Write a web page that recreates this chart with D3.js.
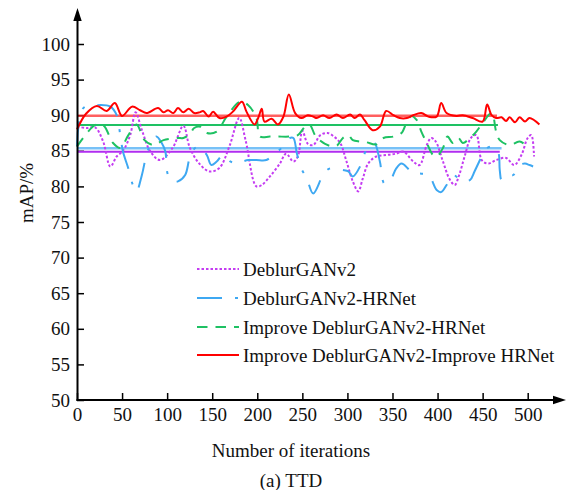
<!DOCTYPE html>
<html><head><meta charset="utf-8">
<script src="https://cdn.jsdelivr.net/npm/d3@7"></script>
<style>body{margin:0;background:#fff}</style>
</head><body>
<svg id="c" width="568" height="490"></svg>
<script>
const xTicks=[0,50,100,150,200,250,300,350,400,450,500];
const yTicks=[50,55,60,65,70,75,80,85,90,95,100];
const seriesNames=["DeblurGANv2","DeblurGANv2-HRNet","Improve DeblurGANv2-HRNet","Improve DeblurGANv2-Improve HRNet"];

const magIter=[0,11,20,29,37,44,51,59,65,72,81,92,106,118,125,135,147,158,169,180,187,199,205,214,225,232,240,245,250,256,262,270,278,285,292,299,306,312,317,323,332,343,354,362,373,380,388,393,398,406,413,419,424,430,437,443,449,456,465,476,485,493,500,504,507];
const magVal=[88.4,88.2,88.3,86.3,82.8,84.2,85.0,87.2,90.4,87.9,85.0,83.7,85.4,88.5,85.5,83.3,82.1,82.6,85.6,89.6,86.5,80.0,80.2,81.4,83.2,84.6,83.5,84.2,87.8,86.0,85.8,87.2,87.5,87.0,86.1,83.5,80.7,79.3,81.1,83.2,84.2,84.4,84.6,84.9,83.5,83.0,85.8,86.8,86.3,83.5,81.1,80.2,81.6,84.2,86.8,87.2,83.7,83.2,83.7,84.0,83.0,84.4,86.8,87.2,84.2];

const blueIter=[0,7,22,37,44,48,51,57,62,66,72,77,83,88,94,98,101,107,112,120,125,131,136,144,149,155,162,170,177,184,190,199,210,219,227,236,240,244,249,255,262,273,280,295,301,306,314,319,325,330,336,341,347,354,360,369,375,380,390,399,404,410,417,428,436,441,447,452,460,467,469,471,476,484,491,497,502,506];
const blueVal=[85.6,91.0,91.4,91.2,90.0,87.2,84.9,82.5,80.2,79.3,81.6,84.4,86.3,87.0,86.1,84.9,81.6,80.7,80.7,81.6,84.0,85.4,85.6,84.4,83.0,83.5,84.4,83.5,83.2,83.5,83.7,83.7,83.7,84.6,85.4,86.8,86.8,84.6,82.5,81.1,79.0,81.6,82.5,82.3,82.1,81.4,82.8,84.6,85.8,86.1,83.5,80.4,80.7,82.5,83.2,82.3,81.8,81.8,81.6,79.5,79.2,80.2,81.6,80.7,80.9,82.1,83.7,85.1,85.6,84.9,82.3,80.9,81.4,81.6,83.0,83.2,83.0,82.8];

const greenIter=[0,20,29,40,48,57,66,75,85,96,111,118,125,130,136,144,155,166,181,190,199,203,214,223,236,245,253,258,264,269,280,288,295,301,306,314,321,332,340,351,360,366,371,377,382,388,395,399,406,411,417,423,428,436,443,450,460,465,469,480,491,502];
const greenVal=[85.6,88.6,88.6,86.1,85.4,87.2,88.7,86.5,85.8,86.5,86.8,86.8,87.3,88.2,88.4,87.5,87.7,89.8,91.9,91.4,89.6,87.0,87.0,87.0,87.0,87.2,88.4,88.7,87.2,86.5,85.7,85.7,86.8,87.2,86.5,86.3,86.2,85.9,86.8,87.0,87.5,89.1,89.9,89.3,87.7,86.1,84.4,84.2,85.4,87.0,86.1,86.8,86.1,86.8,87.7,88.9,90.3,87.7,86.5,85.8,86.3,85.4];

const redIter=[0,10,22,33,42,50,61,70,77,90,96,101,107,112,118,124,130,136,140,146,151,158,166,173,183,188,197,201,205,208,216,223,229,235,242,249,256,262,266,273,280,288,295,303,308,314,319,328,336,343,351,358,366,373,382,390,399,404,410,421,428,439,450,455,460,465,471,476,480,486,491,497,502,513];
const redVal=[88.0,90.2,91.3,90.6,91.7,89.9,91.2,90.7,90.3,91.0,90.4,90.7,90.3,91.0,90.4,90.9,90.3,90.4,90.6,89.8,90.5,89.6,89.8,90.5,91.9,90.5,88.7,89.6,90.9,89.1,89.5,88.7,89.8,92.9,90.3,89.6,90.0,89.8,89.6,90.0,89.6,90.1,89.6,90.1,89.6,90.1,89.3,87.9,88.4,90.6,90.0,89.6,89.6,90.0,90.3,89.8,89.8,91.7,90.3,89.9,90.0,89.6,89.1,91.5,90.0,89.6,89.7,89.2,89.7,89.0,89.7,89.1,89.6,88.7];

const meanVal=[84.87,85.35,88.62,89.92];
const meanEnd=[469,471,467,466];

const colors=["#c43cf2","#3ea8f2","#1ec163","#ff0000"];
const meanColors=["#b02ef0","#55b2f5","#1ec163","#ff2a2a"];
const dashes=["2.5,2","25,13,3,13","10.5,8",null];

const FF="'Liberation Serif','Times New Roman','DejaVu Serif',serif";
const FS="19px";
const svg=d3.select("#c");
const x=d3.scaleLinear().domain([0,500]).range([77,527.7]);
const y=d3.scaleLinear().domain([50,100]).range([400,44]);

const gx=svg.append("g").attr("transform","translate(0,400)")
  .call(d3.axisBottom(x).tickValues(xTicks).tickSize(-7).tickPadding(8).tickFormat(d3.format("d")));
gx.attr("font-family",null).attr("font-size",null);
gx.select(".domain").remove();
gx.selectAll("line").attr("stroke","#000").attr("stroke-width",1.5);
gx.selectAll("text").attr("fill","#111");

const gy=svg.append("g").attr("transform","translate(77,0)")
  .call(d3.axisLeft(y).tickValues(yTicks).tickSize(-7).tickPadding(7).tickFormat(d3.format("d")));
gy.attr("font-family",null).attr("font-size",null);
gy.select(".domain").remove();
gy.selectAll("line").attr("stroke","#000").attr("stroke-width",1.5);
gy.selectAll("text").attr("fill","#111");

const all=[[magIter,magVal],[blueIter,blueVal],[greenIter,greenVal],[redIter,redVal]];
const line=d3.line().x(d=>x(d[0])).y(d=>y(d[1])).curve(d3.curveCatmullRom.alpha(0.5));

meanVal.forEach((m,i)=>{
  svg.append("line").attr("x1",x(0)).attr("x2",x(meanEnd[i]))
    .attr("y1",y(m)).attr("y2",y(m))
    .attr("stroke",meanColors[i])
    .attr("stroke-width",(i===1||i===3)?2.6:2)
    .attr("stroke-opacity",(i===1)?0.8:(i===3?0.75:1));
});

all.forEach(([it,v],i)=>{
  const pts=it.map((d,j)=>[d,v[j]]);
  svg.append("path").attr("d",line(pts)).attr("fill","none")
    .attr("stroke",colors[i]).attr("stroke-width",2)
    .attr("stroke-dasharray",dashes[i]);
});

svg.append("line").attr("x1",77.5).attr("x2",77.5).attr("y1",401).attr("y2",18).attr("stroke","#000").attr("stroke-width",2);
svg.append("path").attr("d","M77.5,8 L73.3,21 L81.7,21 Z").attr("fill","#000");
svg.append("line").attr("x1",76.5).attr("x2",556).attr("y1",400).attr("y2",400).attr("stroke","#000").attr("stroke-width",2);
svg.append("path").attr("d","M566,400 L553,395.8 L553,404.2 Z").attr("fill","#000");

svg.append("text").attr("transform","translate(33,193) rotate(-90)").attr("text-anchor","middle").text("mAP/%");
svg.append("text").attr("x",291).attr("y",457).attr("text-anchor","middle").text("Number of iterations");
svg.append("text").attr("x",291).attr("y",487).attr("text-anchor","middle").text("(a) TTD");

const legY=[269,298,327,355];
seriesNames.forEach((n,i)=>{
  svg.append("line").attr("x1",197).attr("x2",239).attr("y1",legY[i]).attr("y2",legY[i])
    .attr("stroke",colors[i]).attr("stroke-width",2).attr("stroke-dasharray",dashes[i]);
  svg.append("text").attr("x",243).attr("y",legY[i]).attr("dy","0.35em").text(n);
});

svg.selectAll("text").style("font-family",FF).style("font-size",FS).attr("fill","#111");
</script>
</body></html>
